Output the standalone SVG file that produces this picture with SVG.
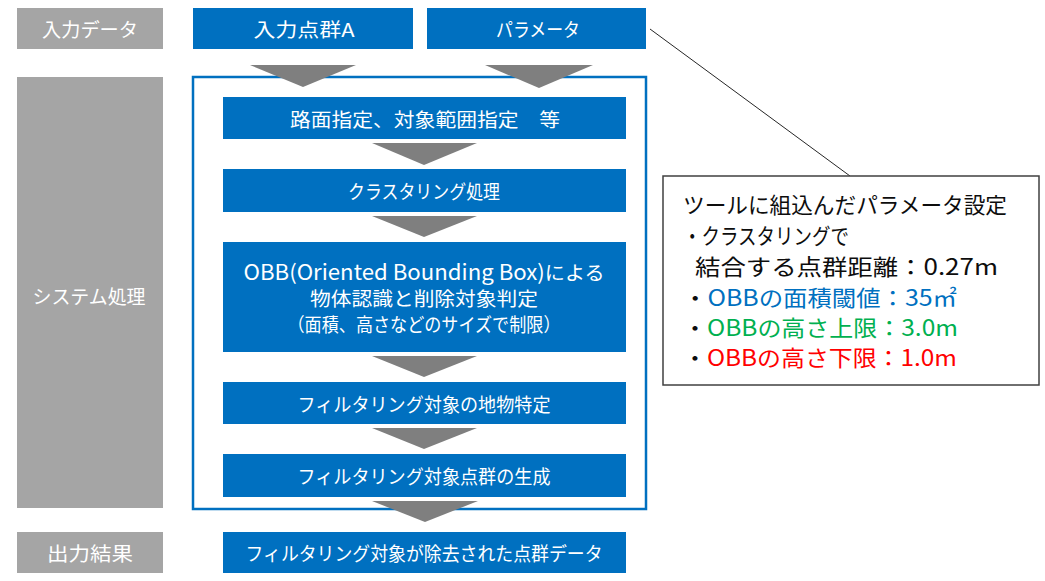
<svg xmlns="http://www.w3.org/2000/svg" width="1045" height="581" viewBox="0 0 1045 581">
<style>
text{font-family:"Noto Sans CJK JP","Noto Sans",sans-serif;}
.lab{fill:#a5a5a5;}
.blu{fill:#0070c0;}
.wt{fill:#ffffff;font-size:19px;text-anchor:middle;dominant-baseline:central;}
.arr{fill:#7f7f7f;}
.ct{font-size:22px;fill:#0d0d0d;}
.la{font-size:22.5px;}
</style>
<rect width="1045" height="581" fill="#ffffff"/>
<g id="label-input"><rect class="lab" x="17" y="8" width="146" height="41"/><text class="wt" x="90" y="28" textLength="96" lengthAdjust="spacingAndGlyphs">入力データ</text></g>
<g id="label-system"><rect class="lab" x="17" y="77" width="146" height="431"/><text class="wt" x="89" y="295" textLength="113" lengthAdjust="spacingAndGlyphs">システム処理</text></g>
<g id="label-output"><rect class="lab" x="17" y="532" width="146" height="41"/><text class="wt" x="90" y="552" textLength="86" lengthAdjust="spacingAndGlyphs">出力結果</text></g>
<g id="input-a"><rect class="blu" x="193" y="8" width="220" height="41"/><text class="wt" x="304" y="28" textLength="101" lengthAdjust="spacingAndGlyphs">入力点群A</text></g>
<g id="param"><rect class="blu" x="427" y="8" width="219" height="41"/><text class="wt" x="538" y="28" textLength="84" lengthAdjust="spacingAndGlyphs">パラメータ</text></g>
<g id="container"><rect x="193" y="77" width="453" height="432" fill="none" stroke="#0070c0" stroke-width="2.5"/></g>
<g id="step1"><rect class="blu" x="223" y="97" width="403" height="42"/><text class="wt" x="425" y="118" textLength="270" lengthAdjust="spacingAndGlyphs">路面指定、対象範囲指定　等</text></g>
<g id="step2"><rect class="blu" x="223" y="169" width="403" height="43"/><text class="wt" x="424" y="190" textLength="152" lengthAdjust="spacingAndGlyphs">クラスタリング処理</text></g>
<g id="step3"><rect class="blu" x="223" y="242" width="403" height="110"/>
<text class="wt" x="424" y="271" textLength="361" lengthAdjust="spacingAndGlyphs"><tspan style="font-size:21px">OBB(Oriented Bounding Box)</tspan>による</text>
<text class="wt" x="424" y="297" textLength="228" lengthAdjust="spacingAndGlyphs">物体認識と削除対象判定</text>
<text class="wt" x="424" y="323" textLength="273" lengthAdjust="spacingAndGlyphs">（面積、高さなどのサイズで制限）</text></g>
<g id="step4"><rect class="blu" x="223" y="382" width="403" height="42"/><text class="wt" x="424" y="403" textLength="253" lengthAdjust="spacingAndGlyphs">フィルタリング対象の地物特定</text></g>
<g id="step5"><rect class="blu" x="223" y="454" width="403" height="43"/><text class="wt" x="424" y="475" textLength="253" lengthAdjust="spacingAndGlyphs">フィルタリング対象点群の生成</text></g>
<g id="output"><rect class="blu" x="223" y="532" width="403" height="41"/><text class="wt" x="424" y="552" textLength="357" lengthAdjust="spacingAndGlyphs">フィルタリング対象が除去された点群データ</text></g>
<g id="connectors">
<polygon class="arr" points="250,65 356,65 303,87"/>
<polygon class="arr" points="485,65 593,65 539,88"/>
<polygon class="arr" points="372,143 477,143 424,165"/>
<polygon class="arr" points="372,216 477,216 424,237"/>
<polygon class="arr" points="372,356 477,356 424,377"/>
<polygon class="arr" points="372,428 477,428 424,449"/>
<polygon class="arr" points="372,501 478,501 425,522"/>
<line x1="650" y1="29" x2="850" y2="176" stroke="#262626" stroke-width="1"/>
</g>
<g id="callout"><rect x="663" y="176" width="376" height="209" fill="#ffffff" stroke="#404040" stroke-width="1.5"/>
<text class="ct" x="683" y="213" textLength="324" lengthAdjust="spacingAndGlyphs">ツールに組込んだパラメータ設定</text>
<text class="ct" x="683" y="244" textLength="166" lengthAdjust="spacingAndGlyphs">・クラスタリングで</text>
<text class="ct" x="695" y="275" textLength="303" lengthAdjust="spacingAndGlyphs">結合する点群距離：<tspan class="la">0.27m</tspan></text>
<text class="ct" x="683" y="306" textLength="274" lengthAdjust="spacingAndGlyphs">・<tspan fill="#0070c0"><tspan class="la">OBB</tspan>の面積閾値：<tspan class="la">35</tspan>㎡</tspan></text>
<text class="ct" x="683" y="336" textLength="275" lengthAdjust="spacingAndGlyphs">・<tspan fill="#00b050"><tspan class="la">OBB</tspan>の高さ上限：<tspan class="la">3.0m</tspan></tspan></text>
<text class="ct" x="683" y="366" textLength="274" lengthAdjust="spacingAndGlyphs">・<tspan fill="#ff0000"><tspan class="la">OBB</tspan>の高さ下限：<tspan class="la">1.0m</tspan></tspan></text>
</g>
</svg>
